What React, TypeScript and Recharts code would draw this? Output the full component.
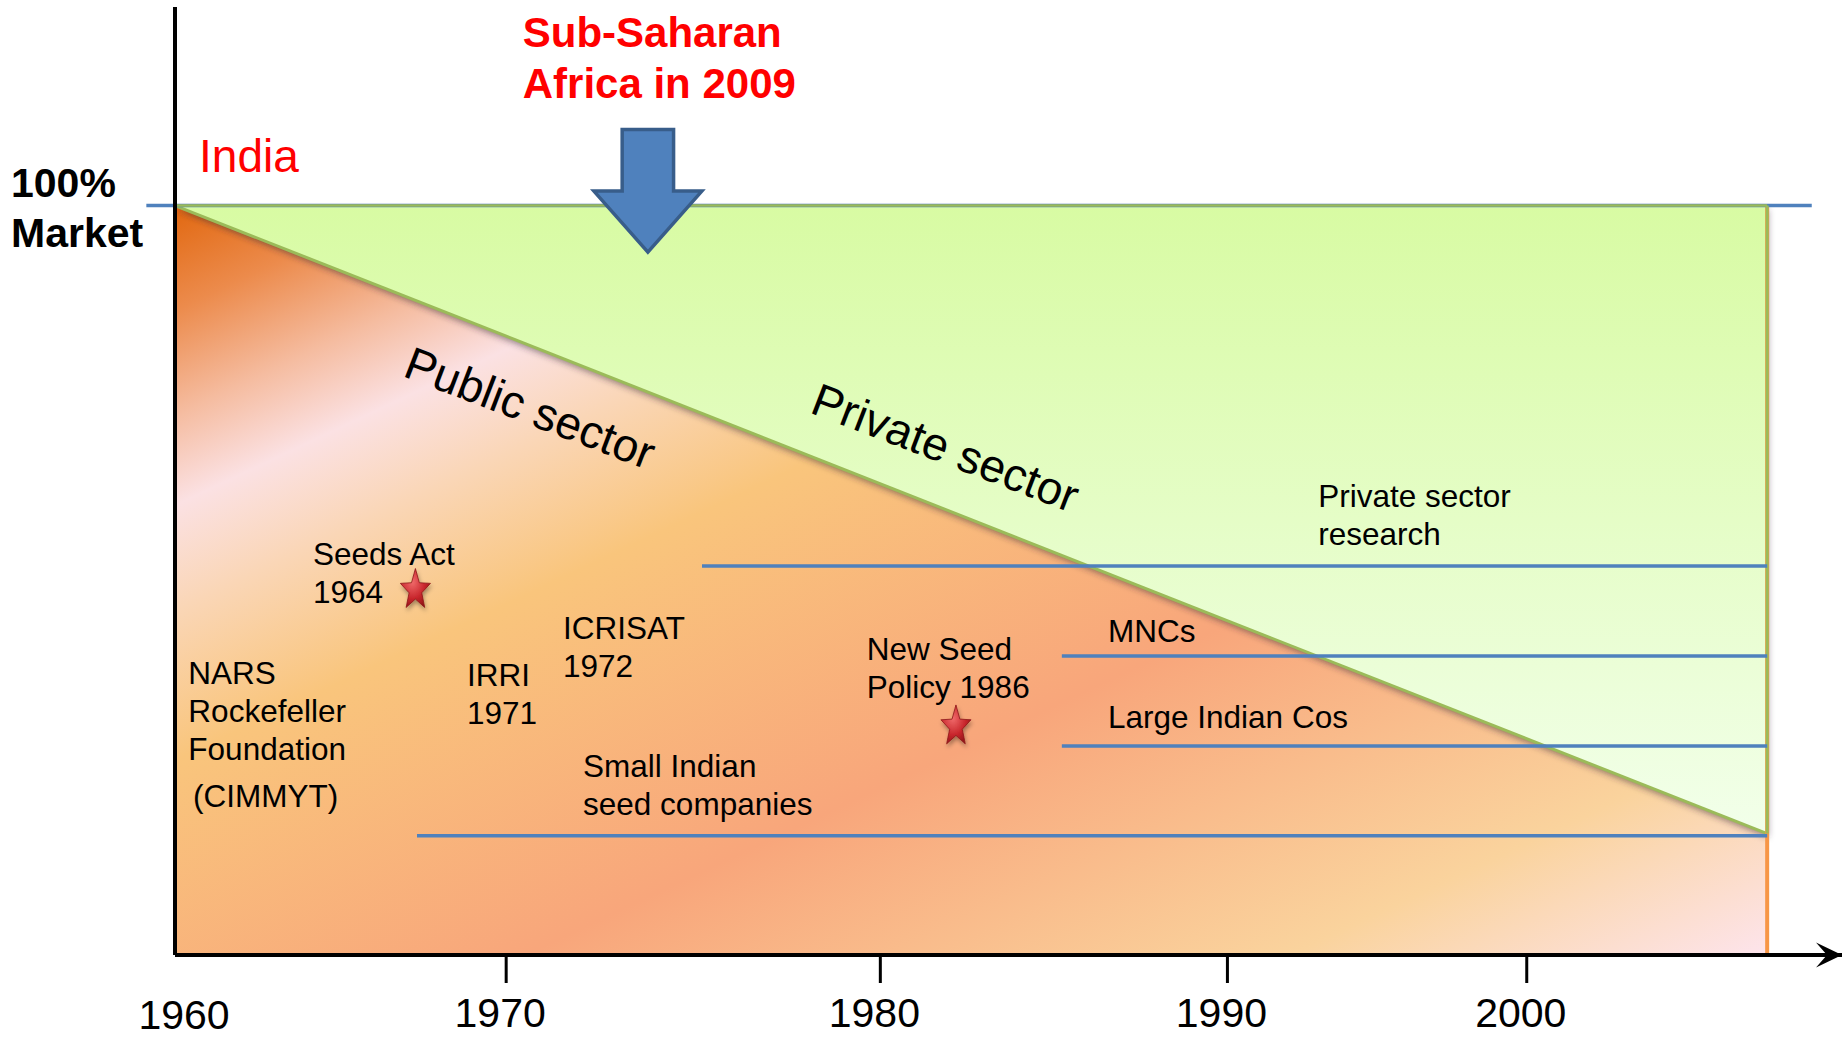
import React from 'react'
import {
  ComposedChart,
  Area,
  Scatter,
  XAxis,
  YAxis,
  ReferenceLine,
  ReferenceDot,
} from 'recharts'

const FONT = '"Liberation Sans", Arial, sans-serif'

// x = position on the timeline, 0 = 1960, 100 = end of the drawn period
// (the slide does not space the decades evenly, so ticks sit where it put them)
const timeline = [0, 100]
const marketShare = [100, 100]
const publicShare = [100, 16.2]
const timelineEnd = 104.7 // tip of the axis arrow
const shareTop = 126.5 // top of the y axis line

const yearTicks = [0, 20.8, 44.3, 66.1, 84.9]
const yearLabels = ['1960', '1970', '1980', '1990', '2000']

const actorNames = ['Private sector research', 'MNCs', 'Large Indian Cos', 'Small Indian seed companies']
const actorEntry = [33.1, 55.7, 55.7, 15.2]
const actorShare = [51.9, 39.9, 27.9, 15.9]

const milestoneNames = ['Seeds Act 1964', 'New Seed Policy 1986']
const milestoneAt = [15.1, 49.05]
const milestoneShare = [48.7, 30.5]

const noteLines = [
  ['Seeds Act', '1964'],
  ['NARS', 'Rockefeller', 'Foundation'],
  ['(CIMMYT)'],
  ['IRRI', '1971'],
  ['ICRISAT', '1972'],
  ['Small Indian', 'seed companies'],
  ['New Seed', 'Policy 1986'],
  ['MNCs'],
  ['Large Indian Cos'],
  ['Private sector', 'research'],
]
const noteAt = [8.67, 0.84, 1.13, 18.34, 24.37, 25.63, 43.45, 58.6, 58.6, 71.8]
const noteShare = [52.0, 36.2, 19.8, 35.9, 42.2, 23.75, 39.4, 41.8, 30.3, 59.8]

const sectorNames = ['Public sector', 'Private sector']
const sectorAt = [22.3, 48.4]
const sectorShare = [73.0, 67.7]

const africaAt = 29.7
const africaShare = 93.8

const YearTick = (props: any) => {
  const { x, y, payload } = props
  const i = yearTicks.indexOf(payload.value)
  const first = i === 0
  return (
    <g>
      {!first && <line x1={x} y1={y} x2={x} y2={y + 28} stroke="#000" strokeWidth={3} />}
      <text
        x={x + (first ? 9 : -6)}
        y={y + (first ? 74 : 72)}
        textAnchor="middle"
        fontSize={41}
        fontFamily={FONT}
        fill="#000"
      >
        {yearLabels[i]}
      </text>
    </g>
  )
}

const MarketTick = (props: any) => {
  const { y } = props
  return (
    <text x={11} y={y - 8.6} fontSize={41} fontWeight="bold" fontFamily={FONT} fill="#000">
      <tspan x={11}>100%</tspan>
      <tspan x={11} dy={50}>Market</tspan>
    </text>
  )
}

function starPath(cx: number, cy: number, rx: number, ry: number, inner: number) {
  let d = ''
  for (let i = 0; i < 10; i++) {
    const a = -Math.PI / 2 + (i * Math.PI) / 5
    const k = i % 2 === 0 ? 1 : inner
    d += (i ? 'L' : 'M') + (cx + Math.cos(a) * rx * k).toFixed(2) + ' ' + (cy + Math.sin(a) * ry * k).toFixed(2)
  }
  return d + 'Z'
}

const Star = (props: any) => {
  const { cx, cy } = props
  return (
    <path
      d={starPath(cx, cy, 15.8, 21.5, 0.42)}
      fill="url(#starFill)"
      stroke="#8B1418"
      strokeWidth={0.8}
      filter="url(#starShadow)"
    />
  )
}

const NoteShape = (props: any) => {
  const { cx, cy, payload } = props
  return (
    <text x={cx} y={cy} fontSize={31.5} fontFamily={FONT} fill="#000">
      {payload.lines.map((line: string, i: number) => (
        <tspan key={i} x={cx} dy={i === 0 ? 0 : 38}>
          {line}
        </tspan>
      ))}
    </text>
  )
}

const sectorLabel = (text: string) => (props: any) => (
  <text
    x={props.cx}
    y={props.cy}
    transform={`rotate(21 ${props.cx} ${props.cy})`}
    textAnchor="middle"
    dominantBaseline="central"
    fontSize={46}
    fontFamily={FONT}
    fill="#000"
  >
    {text}
  </text>
)

const DownArrow = (props: any) => {
  const { cx, cy } = props
  const d = `M${cx} ${cy} L${cx - 54} ${cy - 61} L${cx - 25.7} ${cy - 61} L${cx - 25.7} ${cy - 122.5} L${cx + 25.7} ${cy - 122.5} L${cx + 25.7} ${cy - 61} L${cx + 54} ${cy - 61} Z`
  return <path d={d} fill="#4F81BD" stroke="#385D8A" strokeWidth={3.5} />
}

const AxisArrow = (props: any) => {
  const { cx, cy } = props
  return (
    <path d={`M${cx} ${cy} L${cx - 26} ${cy - 12.5} L${cx - 15} ${cy} L${cx - 26} ${cy + 12.5} Z`} fill="#000" />
  )
}

const IndiaLabel = (props: any) => (
  <text x={props.cx} y={props.cy} fontSize={46} fontFamily={FONT} fill="#FF0000">
    India
  </text>
)

const AfricaLabel = (props: any) => (
  <text x={props.cx} y={props.cy} fontSize={42} fontWeight="bold" fontFamily={FONT} fill="#FF0000">
    <tspan x={props.cx}>Sub-Saharan</tspan>
    <tspan x={props.cx} dy={51}>Africa in 2009</tspan>
  </text>
)

export default function App() {
  const areaData = timeline.map((t, i) => ({
    t,
    market: marketShare[i],
    privateSector: [publicShare[i], marketShare[i]],
  }))
  const milestones = milestoneAt.map((t, i) => ({ t, v: milestoneShare[i], name: milestoneNames[i] }))
  const notes = noteAt.map((t, i) => ({ t, v: noteShare[i], lines: noteLines[i] }))

  return (
    <div style={{ position: 'absolute', left: 0, top: 0, width: 1845, height: 1038, background: '#fff' }}>
      <ComposedChart
        width={1845}
        height={1038}
        data={areaData}
        margin={{ top: 7, right: 3, bottom: 0, left: 0 }}
      >
        <defs>
          <linearGradient id="publicFill" x1="0" y1="0" x2="1" y2="1">
            <stop offset="0" stopColor="#E1670F" />
            <stop offset="0.07" stopColor="#EC8B4C" />
            <stop offset="0.14" stopColor="#F5BCA0" />
            <stop offset="0.2" stopColor="#FBE1E3" />
            <stop offset="0.27" stopColor="#FAD6B6" />
            <stop offset="0.37" stopColor="#F9C57C" />
            <stop offset="0.61" stopColor="#F8A67B" />
            <stop offset="0.85" stopColor="#FAD39D" />
            <stop offset="1" stopColor="#FDE4EC" />
          </linearGradient>
          <linearGradient id="privateFill" x1="0" y1="0" x2="0" y2="1">
            <stop offset="0" stopColor="#D8FBA3" />
            <stop offset="1" stopColor="#F2FFEA" />
          </linearGradient>
          <radialGradient id="starFill" cx="0.4" cy="0.35" r="0.7">
            <stop offset="0" stopColor="#F06A6A" />
            <stop offset="0.6" stopColor="#C8262C" />
            <stop offset="1" stopColor="#8E1418" />
          </radialGradient>
          <filter id="edgeShadow" x="-5%" y="-5%" width="115%" height="130%">
            <feGaussianBlur stdDeviation="3" />
            <feOffset dx="1" dy="4" />
          </filter>
          <filter id="starShadow" x="-50%" y="-50%" width="200%" height="200%">
            <feGaussianBlur in="SourceAlpha" stdDeviation="2" />
            <feOffset dx="1" dy="3" result="b" />
            <feFlood floodColor="#000" floodOpacity="0.35" />
            <feComposite in2="b" operator="in" />
            <feMerge>
              <feMergeNode />
              <feMergeNode in="SourceGraphic" />
            </feMerge>
          </filter>
        </defs>

        <Area
          type="linear"
          dataKey="market"
          stroke="none"
          fill="url(#publicFill)"
          fillOpacity={1}
          isAnimationActive={false}
        />
        <Area
          type="linear"
          dataKey="privateSector"
          stroke="none"
          fill="#3A2A3A"
          fillOpacity={0.5}
          filter="url(#edgeShadow)"
          isAnimationActive={false}
        />
        <Area
          type="linear"
          dataKey="privateSector"
          stroke="#9BBB59"
          strokeWidth={3}
          fill="url(#privateFill)"
          fillOpacity={1}
          isAnimationActive={false}
        />

        <ReferenceLine
          segment={[{ x: timeline[1], y: 0 }, { x: timeline[1], y: marketShare[1] }]}
          stroke="#F79646"
          strokeWidth={4}
          ifOverflow="visible"
        />
        <ReferenceLine
          segment={[{ x: -1.8, y: 100 }, { x: 102.8, y: 100 }]}
          stroke="#4F81BD"
          strokeWidth={3.5}
          ifOverflow="visible"
        />
        <ReferenceLine
          segment={[{ x: timeline[0], y: marketShare[0] }, { x: timeline[1], y: marketShare[1] }]}
          stroke="#9BBB59"
          strokeWidth={2.5}
          ifOverflow="visible"
        />
        <ReferenceLine
          segment={[{ x: timeline[1], y: publicShare[1] }, { x: timeline[1], y: marketShare[1] }]}
          stroke="#9BBB59"
          strokeWidth={3}
          ifOverflow="visible"
        />
        {actorNames.map((name, i) => (
          <ReferenceLine
            key={name}
            segment={[{ x: actorEntry[i], y: actorShare[i] }, { x: timeline[1], y: actorShare[i] }]}
            stroke="#4F81BD"
            strokeWidth={3.5}
            ifOverflow="visible"
          />
        ))}

        <Scatter data={notes} dataKey="v" shape={NoteShape} isAnimationActive={false} />
        <Scatter data={milestones} dataKey="v" shape={Star} isAnimationActive={false} />

        {sectorNames.map((name, i) => (
          <ReferenceDot
            key={name}
            x={sectorAt[i]}
            y={sectorShare[i]}
            r={0}
            shape={sectorLabel(name)}
            ifOverflow="visible"
          />
        ))}
        <ReferenceDot x={africaAt} y={africaShare} r={0} shape={DownArrow} ifOverflow="visible" />
        <ReferenceDot x={1.51} y={104.5} r={0} shape={IndiaLabel} ifOverflow="visible" />
        <ReferenceDot x={21.84} y={121.2} r={0} shape={AfricaLabel} ifOverflow="visible" />

        <XAxis
          type="number"
          dataKey="t"
          domain={[0, timelineEnd]}
          allowDataOverflow
          ticks={yearTicks}
          interval={0}
          tick={<YearTick />}
          tickLine={false}
          tickSize={0}
          tickMargin={0}
          height={83}
          axisLine={{ stroke: '#000', strokeWidth: 4 }}
        />
        <YAxis
          type="number"
          domain={[0, shareTop]}
          allowDataOverflow
          ticks={[100]}
          interval={0}
          tick={<MarketTick />}
          tickLine={false}
          tickSize={0}
          tickMargin={0}
          width={175}
          axisLine={{ stroke: '#000', strokeWidth: 4 }}
        />
        <ReferenceDot x={timelineEnd} y={0} r={0} shape={AxisArrow} ifOverflow="visible" />
      </ComposedChart>
    </div>
  )
}
